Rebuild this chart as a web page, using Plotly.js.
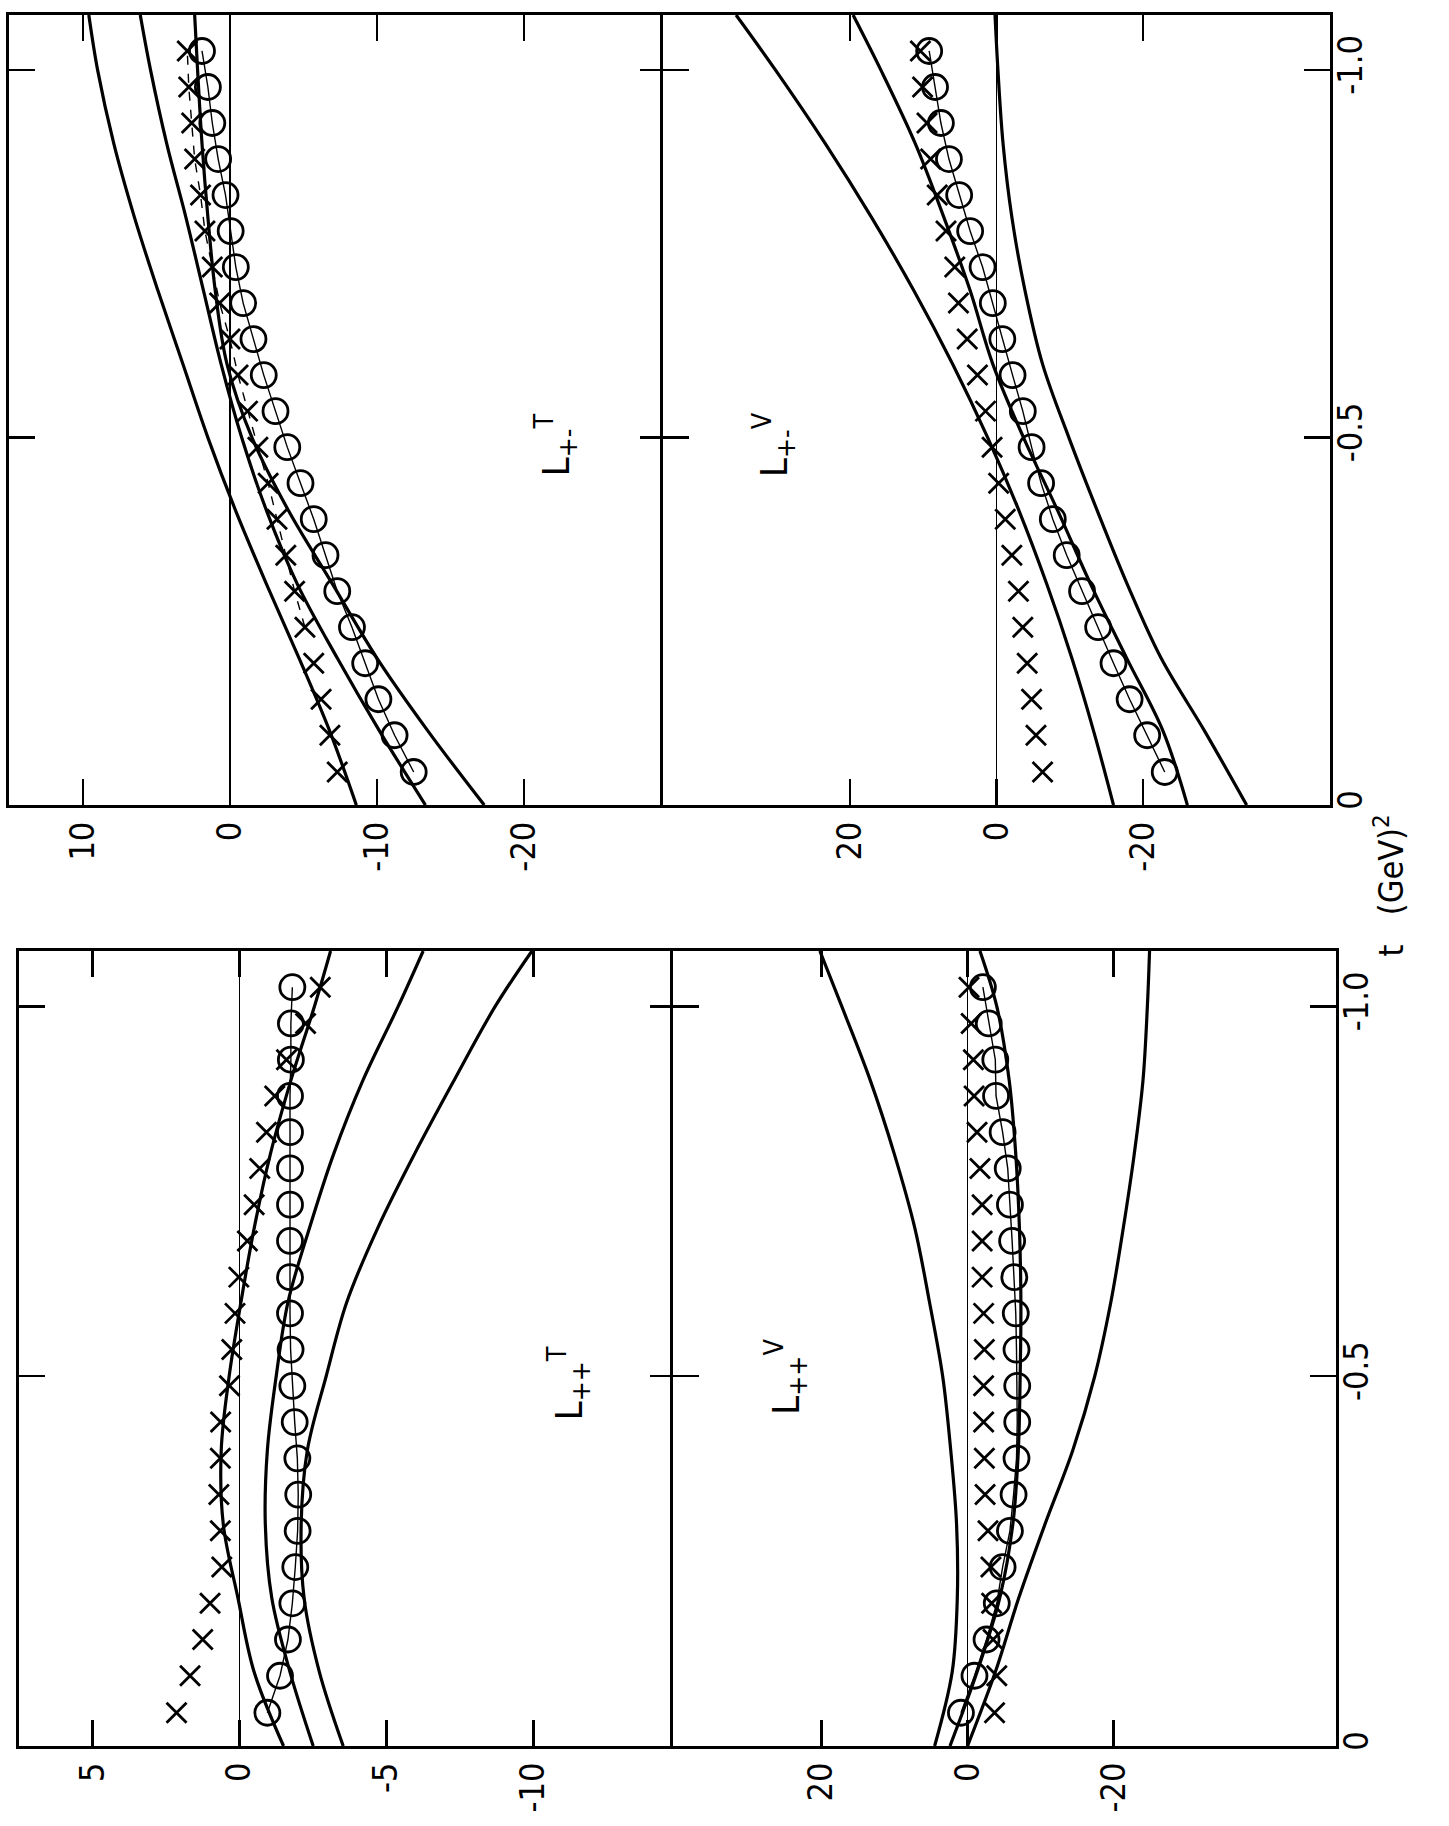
<!DOCTYPE html>
<html>
<head>
<meta charset="utf-8">
<script src="https://cdn.plot.ly/plotly-3.0.1.min.js"></script>
<style>
  html, body { margin: 0; padding: 0; background: #fff; }
  #plotArea { width: 1449px; height: 1826px; }
</style>
</head>
<body>
<div id="plotArea"></div>
<script>
// t of the measured points (crosses and circles), same in all four panels
var tPts = [-0.045, -0.095, -0.144, -0.193, -0.242, -0.291, -0.340, -0.389, -0.438, -0.487,
            -0.536, -0.585, -0.634, -0.683, -0.732, -0.781, -0.830, -0.879, -0.928, -0.977, -1.026];
var tCurve = [0, -0.1, -0.2, -0.3, -0.4, -0.5, -0.6, -0.7, -0.8, -0.9, -1.0, -1.075];

// L+- T  (top left)
var pmT_X = [-7.3, -6.8, -6.2, -5.7, -5.1, -4.4, -3.8, -3.2, -2.6, -1.9, -1.2, -0.55, 0.0, 0.7, 1.2, 1.7, 2.0, 2.4, 2.6, 2.8, 2.9];
var pmT_O = [-12.5, -11.2, -10.1, -9.2, -8.3, -7.3, -6.5, -5.7, -4.8, -3.9, -3.1, -2.3, -1.6, -0.9, -0.4, -0.05, 0.3, 0.8, 1.2, 1.5, 1.9];
var pmT_c1 = [-8.6, -6.8, -4.7, -2.5, -0.4, 1.5, 3.2, 4.9, 6.5, 7.9, 9.0, 9.6];
var pmT_c2 = [-13.3, -10.2, -7.3, -4.6, -2.5, -0.8, 0.6, 1.8, 3.0, 4.3, 5.4, 6.1];
var pmT_c3 = [-17.3, -13.5, -10.0, -7.0, -4.0, -1.5, 0.2, 1.0, 1.5, 1.9, 2.2, 2.4];

// L+- V  (top right)
var pmV_X = [-6.3, -5.4, -4.8, -4.2, -3.6, -3.0, -2.1, -1.2, -0.3, 0.6, 1.5, 2.6, 4.0, 5.2, 5.7, 6.9, 8.1, 9.0, 9.5, 10.1, 10.4];
var pmV_O = [-23.0, -20.6, -18.2, -16.0, -13.9, -11.7, -9.6, -7.7, -6.1, -4.8, -3.6, -2.2, -0.8, 0.5, 1.9, 3.6, 5.1, 6.5, 7.6, 8.4, 9.2];
var pmV_c1 = [-16.0, -13.3, -10.3, -6.9, -3.1, 1.2, 6.0, 11.3, 17.1, 23.4, 30.2, 35.6];
var pmV_c2 = [-26.1, -22.8, -17.8, -12.9, -8.4, -3.7, 0.5, 3.6, 7.2, 11.1, 15.8, 19.6];
var pmV_c3 = [-34.2, -28.5, -22.5, -17.9, -13.8, -9.9, -6.3, -3.9, -2.1, -0.9, -0.2, 0.2];

// L++ T  (bottom left)
var ppT_X = [2.14, 1.68, 1.25, 1.0, 0.6, 0.65, 0.7, 0.65, 0.64, 0.34, 0.26, 0.15, 0.02, -0.27, -0.5, -0.69, -0.92, -1.2, -1.6, -2.25, -2.75];
var ppT_O = [-0.95, -1.38, -1.65, -1.8, -1.9, -1.98, -2.0, -1.97, -1.88, -1.8, -1.74, -1.72, -1.72, -1.72, -1.72, -1.72, -1.72, -1.72, -1.75, -1.75, -1.8];
var ppT_c1 = [-3.53, -2.72, -2.2, -2.1, -2.31, -2.95, -3.65, -4.7, -5.95, -7.3, -8.7, -9.95];
var ppT_c2 = [-2.51, -1.72, -1.1, -0.88, -0.95, -1.25, -1.65, -2.38, -3.2, -4.2, -5.4, -6.25];
var ppT_c3 = [-1.5, -0.5, 0.05, 0.55, 0.62, 0.35, -0.05, -0.5, -1.05, -1.75, -2.55, -3.1];

// L++ V  (bottom right)
var ppV_X = [-3.7, -4.0, -3.5, -3.3, -3.2, -2.8, -2.4, -2.3, -2.2, -2.2, -2.3, -2.2, -2.0, -2.0, -2.0, -1.7, -1.3, -0.9, -0.8, -0.5, -0.2];
var ppV_O = [0.9, -0.95, -2.6, -4.0, -4.8, -5.8, -6.3, -6.7, -6.8, -6.8, -6.7, -6.6, -6.4, -6.1, -5.8, -5.5, -4.8, -3.9, -3.8, -2.9, -2.1];
var ppV_c1 = [4.5, 2.1, 1.4, 1.5, 2.3, 3.4, 5.2, 7.2, 10.0, 13.3, 17.2, 20.2];
var ppV_c2 = [0, -3.8, -7.0, -10.6, -14.4, -17.4, -19.6, -21.3, -22.8, -24.0, -24.6, -24.9];
var ppV_c3 = [2.4, -1.3, -4.4, -6.2, -6.95, -7.2, -7.3, -7.1, -6.6, -5.7, -4.0, -1.7];

// tick labels
var tTicks = [0, -0.5, -1.0];
var tLabels = ["0", "-0.5", "-1.0"];
var pmT_ticks = [10, 0, -10, -20];
var pmT_labels = ["10", "0", "-10", "-20"];
var vTicks = [20, 0, -20];
var vLabels = ["20", "0", "-20"];
var ppT_ticks = [5, 0, -5, -10];
var ppT_labels = ["5", "0", "-5", "-10"];

var font = "Liberation Sans Narrow, DejaVu Sans Condensed, Arial Narrow, sans-serif";

function curve(vals, xa, ya) {
    return {x: vals, y: tCurve, xaxis: xa, yaxis: ya, mode: "lines", type: "scatter",
            line: {color: "#000", width: 3.2, shape: "spline"}, hoverinfo: "skip"};
}
function crosses(vals, xa, ya) {
    return {x: vals, y: tPts, xaxis: xa, yaxis: ya, mode: "markers", type: "scatter",
            marker: {symbol: "x-thin-open", size: 20, color: "#000", line: {color: "#000", width: 2.8}}};
}
function circles(vals, xa, ya) {
    return {x: vals, y: tPts, xaxis: xa, yaxis: ya, mode: "lines+markers", type: "scatter",
            line: {color: "#000", width: 1.4},
            marker: {symbol: "circle-open", size: 25, color: "#000", line: {color: "#000", width: 2.8}}};
}

var trace = [
    curve(pmT_c1, "x", "y"), curve(pmT_c2, "x", "y"), curve(pmT_c3, "x", "y"),
    {x: pmT_X.slice(4), y: tPts.slice(4), xaxis: "x", yaxis: "y", mode: "lines", type: "scatter",
     line: {color: "#000", width: 1.4, dash: "dash"}},
    crosses(pmT_X, "x", "y"), circles(pmT_O, "x", "y"),

    curve(pmV_c1, "x2", "y2"), curve(pmV_c2, "x2", "y2"), curve(pmV_c3, "x2", "y2"),
    crosses(pmV_X, "x2", "y2"), circles(pmV_O, "x2", "y2"),

    curve(ppT_c1, "x3", "y3"), curve(ppT_c2, "x3", "y3"), curve(ppT_c3, "x3", "y3"),
    crosses(ppT_X, "x3", "y3"), circles(ppT_O, "x3", "y3"),

    curve(ppV_c1, "x4", "y4"), curve(ppV_c2, "x4", "y4"), curve(ppV_c3, "x4", "y4"),
    crosses(ppV_X, "x4", "y4"), circles(ppV_O, "x4", "y4")
];

function valAxis(domain, range, ticks, labels, anchor) {
    return {domain: domain, range: range, anchor: anchor,
            tickvals: ticks, ticktext: labels, tickangle: -90,
            ticks: "inside", ticklen: 26, tickwidth: 2.5, tickcolor: "#000",
            showline: true, linewidth: 3, linecolor: "#000", mirror: "allticks",
            zeroline: true, zerolinewidth: 1.7, zerolinecolor: "#000",
            showgrid: false, fixedrange: true,
            tickfont: {family: font, size: 34, color: "#000"}};
}
function tAxis(domain, anchor, labelled) {
    return {domain: domain, range: [0, -1.075], anchor: anchor,
            side: labelled ? "right" : "left", showticklabels: labelled,
            tickvals: tTicks, ticktext: tLabels, tickangle: -90, ticklabelstandoff: -12,
            ticks: "inside", ticklen: 26, tickwidth: 2.5, tickcolor: "#000",
            showline: true, linewidth: 3, linecolor: "#000", mirror: "allticks",
            zeroline: false, showgrid: false, fixedrange: true,
            tickfont: {family: font, size: 34, color: "#000"}};
}

var topY = [0.5591, 0.9918];
var botY = [0.0438, 0.4792];

var layout = {
    width: 1449, height: 1826,
    margin: {l: 0, r: 0, t: 0, b: 0},
    paper_bgcolor: "#fff", plot_bgcolor: "#fff",
    showlegend: false,
    xaxis:  valAxis([0.0062, 0.4596], [15.03, -29.66], pmT_ticks, pmT_labels, "y"),
    yaxis:  tAxis(topY, "x", false),
    xaxis2: valAxis([0.4575, 0.9179], [45.6, -45.6], vTicks, vLabels, "y2"),
    yaxis2: tAxis(topY, "x2", true),
    xaxis3: valAxis([0.0131, 0.4665], [7.5, -14.85], ppT_ticks, ppT_labels, "y3"),
    yaxis3: tAxis(botY, "x3", false),
    xaxis4: valAxis([0.4644, 0.9220], [40.3, -50.4], vTicks, vLabels, "y4"),
    yaxis4: tAxis(botY, "x4", true),
    annotations: [
        {xref: "x", yref: "y", x: -22.2, y: -0.49, text: "L<sub>+-</sub><sup>T</sup>", showarrow: false, textangle: -90,
         font: {family: font, size: 38, color: "#000"}},
        {xref: "x2", yref: "y2", x: 30.4, y: -0.49, text: "L<sub>+-</sub><sup>V</sup>", showarrow: false, textangle: -90,
         font: {family: font, size: 38, color: "#000"}},
        {xref: "x3", yref: "y3", x: -11.2, y: -0.49, text: "L<sub>++</sub><sup>T</sup>", showarrow: false, textangle: -90,
         font: {family: font, size: 38, color: "#000"}},
        {xref: "x4", yref: "y4", x: 24.9, y: -0.5, text: "L<sub>++</sub><sup>V</sup>", showarrow: false, textangle: -90,
         font: {family: font, size: 38, color: "#000"}},
        {xref: "paper", yref: "paper", x: 0.975, y: 0.515, text: "t   (GeV)<sup>2</sup>", showarrow: false,
         textangle: -90, font: {family: font, size: 34, color: "#000"}}
    ]
};

Plotly.newPlot("plotArea", trace, layout, {displayModeBar: false, staticPlot: true});
</script>
</body>
</html>
